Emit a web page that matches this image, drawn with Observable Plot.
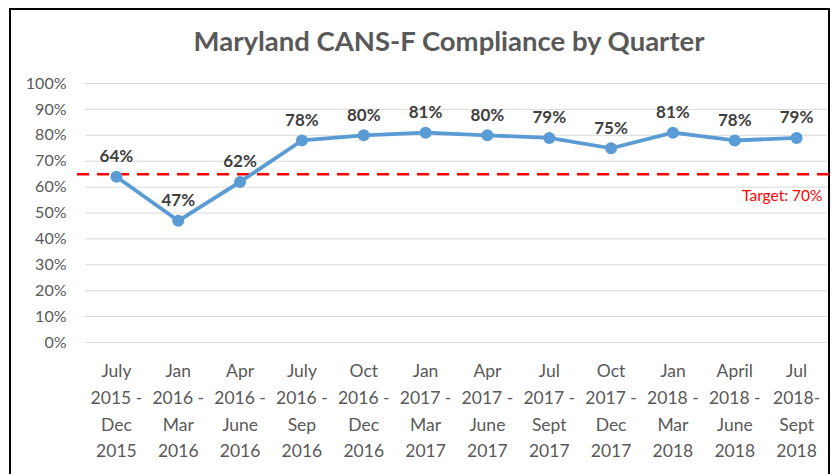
<!DOCTYPE html>
<html>
<head>
<meta charset="utf-8">
<script src="https://cdn.jsdelivr.net/npm/d3@7"></script>
<script src="https://cdn.jsdelivr.net/npm/@observablehq/plot@0.6"></script>
<style>
  html, body { margin: 0; padding: 0; background: #fff; overflow: hidden; }
  #frame { position: absolute; left: 9px; top: 8px; width: 821px; height: 500px; border: 2px solid #000; box-sizing: border-box; }
  #wrap { position: absolute; left: 0; top: 0; width: 838px; }
  #title { height: 70px; box-sizing: border-box; padding-top: 25px; text-align: center; font-family: Lato, "Open Sans", sans-serif; font-weight: bold; font-size: 27.5px; color: #595959; line-height: 32px; padding-left: 60px; white-space: nowrap; }
  svg { display: block; }
</style>
</head>
<body>
<div id="frame"></div>
<div id="wrap">
  <div id="title">Maryland CANS-F Compliance by Quarter</div>
  <div id="chart"></div>
</div>
<script>
const quarters = [
  "July\n2015 -\nDec\n2015",
  "Jan\n2016 -\nMar\n2016",
  "Apr\n2016 -\nJune\n2016",
  "July\n2016 -\nSep\n2016",
  "Oct\n2016 -\nDec\n2016",
  "Jan\n2017 -\nMar\n2017",
  "Apr\n2017 -\nJune\n2017",
  "Jul\n2017 -\nSept\n2017",
  "Oct\n2017 -\nDec\n2017",
  "Jan\n2018 -\nMar\n2018",
  "April\n2018 -\nJune\n2018",
  "Jul\n2018-\nSept\n2018"
];
const compliance = [64, 47, 62, 78, 80, 81, 80, 79, 75, 81, 78, 79];
const targetLine = 65;
const targetLabel = "Target: 70%";
const yTicks = [0, 10, 20, 30, 40, 50, 60, 70, 80, 90, 100];

const data = quarters.map((q, i) => ({quarter: q, value: compliance[i]}));

const chart = Plot.plot({
  width: 838,
  height: 404,
  marginLeft: 85,
  marginRight: 11,
  marginTop: 13,
  marginBottom: 132,
  style: {fontFamily: "Lato, 'Open Sans', sans-serif", background: "transparent"},
  x: {type: "point", domain: quarters, padding: 0.5, round: false, label: null},
  y: {domain: [0, 100], label: null},
  marks: [
    Plot.gridY(yTicks, {stroke: "#D9D9D9", strokeOpacity: 1, strokeWidth: 1}),
    Plot.axisY(yTicks, {tickSize: 0, tickPadding: 19, tickFormat: d => d + "%", fontSize: 16, fill: "#595959", label: null}),
    Plot.axisX({tickSize: 0, tickPadding: 15, fontSize: 17.5, lineHeight: 1.54, fill: "#595959", label: null}),
    Plot.ruleY([targetLine], {stroke: "#FF0000", strokeWidth: 2.5, strokeDasharray: "12,8", insetLeft: -8, insetRight: -8}),
    Plot.text([targetLabel], {y: [targetLine], frameAnchor: "right", textAnchor: "end", dx: -5, dy: 22, fill: "#FF0000", fontSize: 15.5, text: d => d}),
    Plot.line(data, {x: "quarter", y: "value", stroke: "#5B9BD5", strokeWidth: 3.8}),
    Plot.dot(data, {x: "quarter", y: "value", r: 6, fill: "#5B9BD5", stroke: "none"}),
    Plot.text(data, {x: "quarter", y: "value", text: d => d.value + "%", dy: -20, fontSize: 17, fontWeight: "bold", fill: "#404040"})
  ]
});
document.getElementById("chart").appendChild(chart);
</script>
</body>
</html>
